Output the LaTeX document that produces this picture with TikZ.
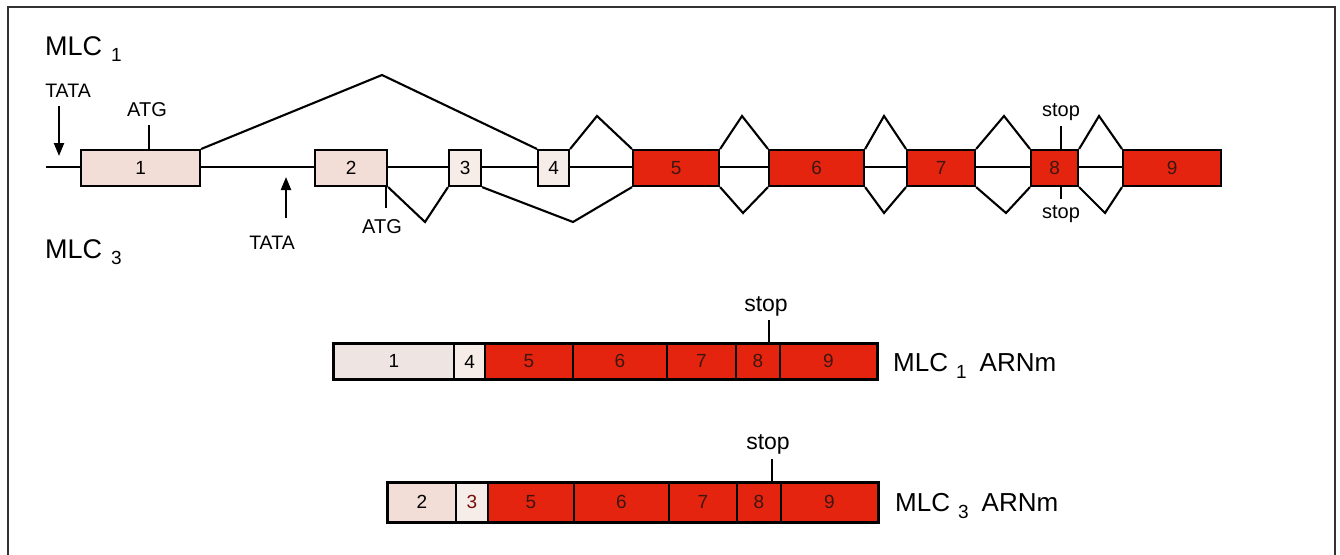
\documentclass[tikz,border=0pt]{standalone}
\usepackage{fontspec}
\setmainfont{Liberation Sans}
\usetikzlibrary{arrows.meta}

\definecolor{exred}{RGB}{229,36,16}
\definecolor{expink}{RGB}{242,221,215}
\definecolor{expale}{RGB}{246,236,232}
\definecolor{exgrey}{RGB}{238,228,226}
\definecolor{digdark}{RGB}{62,22,14}
\definecolor{digred}{RGB}{120,14,10}
\definecolor{framegray}{RGB}{50,50,50}

\newcommand{\fs}[1]{\fontsize{#1}{#1}\selectfont}
% gene label with lowered index: \genelab{index}
\newcommand{\genelab}[1]{MLC\hspace{9pt}\raisebox{-6pt}{\fs{19}#1}}

\tikzset{
  wire/.style={line width=2.1pt, line join=miter},
  exon/.style={draw=black, line width=2.1pt, anchor=north west, inner sep=0pt,
               minimum height=36pt, font=\fs{19}},
  coding/.style={exon, fill=exred, text=digdark},
  utr/.style={exon, fill=expink},
  utrpale/.style={exon, fill=expale},
  seg/.style={draw=black, line width=1.6pt, anchor=north west, inner sep=0pt,
              font=\fs{19}},
  segred/.style={seg, fill=exred, text=digdark},
  tag/.style={font=\fs{19.5}, inner sep=0pt},
  tick/.style={line width=1.6pt},
  tata/.style={line width=2.1pt, -{Triangle[length=13pt,width=10pt]}},
  rowlab/.style={font=\fs{27}, anchor=base west, inner sep=0pt},
  mlab/.style={font=\fs{26}, anchor=base west, inner sep=0pt},
}

\begin{document}
\begin{tikzpicture}[x=1pt, y=-1pt]
\useasboundingbox (0,0) rectangle (1340,554);

% frame (open at the bottom)
\draw[framegray, line width=2.2pt] (8,556) -- (8,7) -- (1335,7) -- (1335,556);

% ---------------- gene ----------------
\coordinate (gstart) at (46,167);
\coordinate (gend) at (1122,167);
\draw[wire] (gstart) -- (gend);

\node[utr,     minimum width=119pt] (e1) at (80,149)   {1};
\node[utr,     minimum width=72pt]  (e2) at (314,149)  {2};
\node[utrpale, minimum width=32pt]  (e3) at (448,149)  {3};
\node[utrpale, minimum width=31pt]  (e4) at (537,149)  {4};
\node[coding,  minimum width=86pt]  (e5) at (632,149)  {5};
\node[coding,  minimum width=95pt]  (e6) at (768,149)  {6};
\node[coding,  minimum width=68pt]  (e7) at (906,149)  {7};
\node[coding,  minimum width=47pt]  (e8) at (1030,149) {8};
\node[coding,  minimum width=98pt]  (e9) at (1122,149) {9};

% splicing of MLC1 (above)
\coordinate (u14) at (382,75);
\coordinate (u45) at (597,116);
\coordinate (u56) at (742,116);
\coordinate (u67) at (884,116);
\coordinate (u78) at (1004,116);
\coordinate (u89) at (1099,116);
\draw[wire] (e1.north east) -- (u14) -- (e4.north west);
\draw[wire] (e4.north east) -- (u45) -- (e5.north west);
\draw[wire] (e5.north east) -- (u56) -- (e6.north west);
\draw[wire] (e6.north east) -- (u67) -- (e7.north west);
\draw[wire] (e7.north east) -- (u78) -- (e8.north west);
\draw[wire] (e8.north east) -- (u89) -- (e9.north west);

% splicing of MLC3 (below)
\coordinate (d23) at (425,222);
\coordinate (d35) at (573,222);
\coordinate (d56) at (743,213);
\coordinate (d67) at (884,213);
\coordinate (d78) at (1006,213);
\coordinate (d89) at (1105,213);
\draw[wire] (e2.south east) -- (d23) -- (e3.south west);
\draw[wire] (e3.south east) -- (d35) -- (e5.south west);
\draw[wire] (e5.south east) -- (d56) -- (e6.south west);
\draw[wire] (e6.south east) -- (d67) -- (e7.south west);
\draw[wire] (e7.south east) -- (d78) -- (e8.south west);
\draw[wire] (e8.south east) -- (d89) -- (e9.south west);

% promoters and start / stop codons
\node[tag] (tata1) at (68,91) {TATA};
\coordinate (tata1tip) at (59,156);
\draw[tata] (59,106) -- (tata1tip);
\node[tag] (tata3) at (272,243) {TATA};
\coordinate (tata3tip) at (286,177);
\draw[tata] (286,218) -- (tata3tip);

\node[tag, font=\fs{20}] (atg1) at (147,110) {ATG};
\draw[tick] (149,125) -- (149,149);
\node[tag, font=\fs{20}] (atg3) at (382,227) {ATG};
\draw[tick] (386,185) -- (386,208);

\node[tag, font=\fs{20}] (stopu) at (1061,112) {stop};
\draw[tick] (1061,126) -- (1061,149);
\node[tag, font=\fs{20}] (stopd) at (1061,214) {stop};
\draw[tick] (1061,185) -- (1061,199);

\node[rowlab] (mlc1) at (45,55)  {\genelab{1}};
\node[rowlab] (mlc3) at (45,258) {\genelab{3}};

% ---------------- MLC1 mRNA ----------------
\begin{scope}[every node/.append style={minimum height=35pt}]
\node[seg, fill=exgrey, minimum width=120pt] (a1) at (333,343) {1};
\node[seg, fill=expale, minimum width=31pt, line width=2.1pt] (a4) at (453,343) {4};
\node[segred, minimum width=88pt] (a5) at (484,343) {5};
\node[segred, minimum width=94pt] (a6) at (572,343) {6};
\node[segred, minimum width=69pt] (a7) at (666,343) {7};
\node[segred, minimum width=44pt] (a8) at (735,343) {8};
\node[segred, minimum width=97pt] (a9) at (779,343) {9};
\end{scope}
\draw[line width=2.1pt] (a1.north west) rectangle (a9.south east);
\node[tag, font=\fs{23}] (astop) at (766,306) {stop};
\draw[tick] (769,320) -- (769,343);
\node[mlab] (alab) at (893,371) {MLC\hspace{8pt}\raisebox{-7pt}{\fs{19}1}\hspace{13pt}ARNm};

% ---------------- MLC3 mRNA ----------------
\begin{scope}[every node/.append style={minimum height=39pt}]
\node[seg, fill=expink, minimum width=68pt] (b2) at (387,482) {2};
\node[seg, fill=expale, minimum width=32pt, text=digred] (b3) at (455,482) {3};
\node[segred, minimum width=86pt] (b5) at (487,482) {5};
\node[segred, minimum width=95pt] (b6) at (573,482) {6};
\node[segred, minimum width=68pt] (b7) at (668,482) {7};
\node[segred, minimum width=44pt] (b8) at (736,482) {8};
\node[segred, minimum width=97pt] (b9) at (780,482) {9};
\end{scope}
\draw[line width=2.1pt] (b2.north west) rectangle (b9.south east);
\node[tag, font=\fs{23}] (bstop) at (768,444) {stop};
\draw[tick] (772,459) -- (772,482);
\node[mlab] (blab) at (895,511) {MLC\hspace{8pt}\raisebox{-7pt}{\fs{19}3}\hspace{13pt}ARNm};

\end{tikzpicture}
\end{document}
